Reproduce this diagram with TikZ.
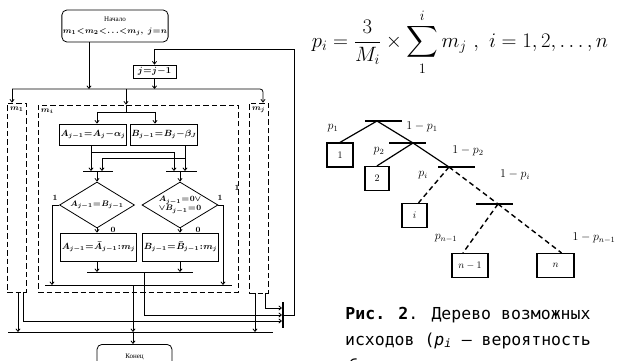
\documentclass[tikz,border=0pt]{standalone}
\usepackage{amsmath,amssymb}
\usepackage{fontspec}
\newfontfamily\blockfont{Liberation Serif}
\newfontfamily\capfont{DejaVu Sans Mono}
\newcommand\tightmu{\thickmuskip=1mu\relax\medmuskip=0.5mu\relax}
\usetikzlibrary{arrows.meta,positioning,shapes.geometric,calc}

\begin{document}
\begin{tikzpicture}[x=1pt,y=-1pt,line width=0.8pt,
  arr/.style={-{Straight Barb[length=2.6pt,width=4.2pt]}},
  term/.style={draw,rounded corners=5pt,align=center,inner sep=1pt},
  blk/.style={draw,inner sep=1pt,font=\fontsize{9}{10}\selectfont\boldmath,
              execute at begin node=\tightmu},
  cond/.style={draw,diamond,aspect=1.6,inner sep=0pt,align=center,
               font=\fontsize{8}{9}\selectfont\boldmath,execute at begin node=\tightmu},
  grp/.style={draw,dash pattern=on 5.5pt off 3pt,inner sep=0pt},
  lbl/.style={inner sep=0pt,font=\fontsize{8}{9}\selectfont\bfseries\boldmath},
  tbar/.style={fill=black,inner sep=0pt,minimum width=37pt,minimum height=2.6pt},
  leaf/.style={draw,line width=1.2pt,inner sep=0pt,minimum height=24pt,
               font=\fontsize{10}{12}\selectfont},
  branch/.style={line width=1.2pt},
  dbranch/.style={line width=1.4pt,dash pattern=on 5pt off 3.5pt},
  plab/.style={inner sep=0pt,font=\fontsize{12}{14}\selectfont},
  capt/.style={inner sep=0pt,font=\capfont\fontsize{16.5}{20}\selectfont}]
  \useasboundingbox (0,0) rectangle (622,361);

  % Start and decrement
  \node[term,minimum width=100pt,minimum height=32pt] (start) at (115,26)
       {{\blockfont\fontsize{7}{8}\selectfont Начало}\\
        {\fontsize{8.5}{9}\selectfont\boldmath\tightmu$m_1<m_2<\ldots<m_j,\ j=n$}};
  \node[blk,minimum width=43pt,minimum height=13pt] (dec) at (154.5,71.5) {$j=j-1$};

  % Dashed groups
  \node[grp,minimum width=19pt,minimum height=189pt] (m1box) at (16.5,197.5) {};
  \node[grp,minimum width=200pt,minimum height=187pt] (mibox) at (138,198.5) {};
  \node[grp,minimum width=19pt,minimum height=190pt] (mjbox) at (258.5,198) {};
  \node[lbl,anchor=north west] (lm1) at ([shift={(3pt,-4pt)}]m1box.north west) {$m_1$};
  \node[lbl,anchor=north west] (lmi) at ([shift={(3pt,-4pt)}]mibox.north west) {$m_i$};
  \node[lbl,anchor=north west] (lmj) at ([shift={(3pt,-4pt)}]mjbox.north west) {$m_j$};

  % Inner blocks
  \node[blk,minimum width=62pt,minimum height=21pt] (asub) at (93,134.5) {$A_{j-1}=A_j-\alpha_j$};
  \node[blk,minimum width=62pt,minimum height=21pt] (bsub) at (164,134.5) {$B_{j-1}=B_j-\beta_J$};
  \node[cond,minimum width=75pt,minimum height=46pt] (acmp) at (97,205) {$A_{j-1}=B_{j-1}$};
  \node[cond,minimum width=76pt,minimum height=46pt] (bcmp) at (180,205)
       {$A_{j-1}=0\vee$\\$\vee B_{j-1}=0$};
  \node[blk,minimum width=69pt,minimum height=28pt] (adiv) at (98.5,247) {$A_{j-1}=\bar{A}_{j-1}:m_j$};
  \node[blk,minimum width=65pt,minimum height=28pt] (bdiv) at (180.5,247) {$B_{j-1}=\bar{B}_{j-1}:m_j$};
  \node[lbl] (l1a) at (55,198) {1};
  \node[lbl] (l0a) at (113,230) {0};
  \node[lbl] (l1b) at (220,198) {1};
  \node[lbl] (l0b) at (198,230) {0};
  \node[lbl] (l1c) at (237,188) {1};

  % Join bar and end
  \node[fill=black,inner sep=0pt,minimum width=1.2pt,minimum height=26pt] (join) at (283,315) {};
  \node[term,minimum width=75pt,minimum height=24pt,anchor=north] (stop) at (134.5,344)
       {\blockfont\fontsize{7}{8}\selectfont Конец};

  % Bus points
  \coordinate (tb1) at (12,89);   \coordinate (tb2) at (263,89);
  \coordinate (sdrop) at (89,89); \coordinate (mdrop) at (126,89);
  \coordinate (forkA) at (97,112); \coordinate (forkB) at (155,112);
  \coordinate (bl1) at (83,171);  \coordinate (bl2) at (113,171);
  \coordinate (br1) at (166,171); \coordinate (br2) at (197,171);
  \coordinate (aR) at (174,171);  \coordinate (bL) at (102,171);
  \coordinate (aYes) at (52,285); \coordinate (bYes) at (223,285);
  \coordinate (bc1) at (87,272);  \coordinate (bc2) at (193,272);
  \coordinate (bi1) at (45,285);  \coordinate (bi2) at (232,285);
  \coordinate (bb1) at (8,332);   \coordinate (bb2) at (273,332);
  \coordinate (cdrop) at (144,272); \coordinate (idrop) at (133,285);
  \coordinate (loop) at (294,49);
  \coordinate (aout) at ([xshift=-2pt]asub.south);
  \coordinate (bout) at ([xshift=21pt]bsub.south);
  \coordinate (m1L) at ([xshift=1.5pt]m1box.south);
  \coordinate (m1R) at ([xshift=6.5pt]m1box.south);
  \coordinate (mjL) at ([xshift=-3.5pt]mjbox.south);
  \coordinate (mjR) at ([xshift=6.5pt]mjbox.south);

  % Top distribution
  \draw[arr] (start.south -| sdrop) -- (sdrop);
  \draw[arr] (dec.south) -- (dec.south |- tb1);
  \draw[arr,rounded corners=3pt] (tb1) -- (tb2) -- (tb2 |- mjbox.north);
  \draw[arr] (tb1) -- (tb1 |- m1box.north);
  \draw[arr] (mdrop) -- (mdrop |- mibox.north);
  \draw (mdrop |- mibox.north) -- (mdrop |- forkA);
  \draw (forkA) -- (forkB);
  \draw[arr] (forkA) -- (forkA |- asub.north);
  \draw[arr] (forkB) -- (forkB |- bsub.north);

  % Inside m_i
  \draw[arr] (aout) -- (aout |- bl1);
  \draw[arr] ([yshift=-7pt]aout) -| (aR);
  \draw[arr] (bout) -- (bout |- br1);
  \draw[arr] ([yshift=-13pt]bout) -| (bL);
  \draw (bl1) -- (bl2);
  \draw (br1) -- (br2);
  \draw[arr] (acmp.north |- bl1) -- (acmp.north);
  \draw[arr] (bcmp.north |- br1) -- (bcmp.north);
  \draw[arr] (acmp.west) -| (aYes);
  \draw[arr] (bcmp.east) -| (bYes);
  \draw[arr] (acmp.south) -- (acmp.south |- adiv.north);
  \draw[arr] (bcmp.south) -- (bcmp.south |- bdiv.north);
  \draw[arr] (adiv.south -| acmp) -- (acmp |- bc1);
  \draw[arr] (bdiv.south -| bcmp) -- (bcmp |- bc1);
  \draw (bc1) -- (bc2);
  \draw (bi1) -- (bi2);

  % Exits
  \draw (bb1) -- (bb2);
  \draw[arr] (cdrop) |- (join.west);
  \draw[arr] (mjR) |- ([yshift=7pt]join.west);
  \draw[arr] (m1R) |- ([yshift=-6pt]join.west);
  \draw[arr] (m1L) -- (m1L |- bb1);
  \draw[arr] (mjL) -- (mjL |- bb1);
  \draw[arr] (idrop) -- (idrop |- bb1);
  \draw[arr] (idrop |- bb1) -- (stop.north -| idrop);
  \draw[arr] (join.east) -| (loop) -| (dec.north);

  % Formula
  \node[inner sep=0pt,font=\fontsize{22}{26}\selectfont] (fml) at (460,42)
       {$\displaystyle p_i=\frac{3}{M_i}\times\sum_1^i m_j\ ,\ i=1,2,\ldots,n$};

  % Tree of outcomes
  \node[tbar] (t1) at (383.5,121) {};
  \node[tbar] (t2) at (407.5,143) {};
  \node[tbar] (t3) at (456.5,167) {};
  \node[tbar] (t4) at (494,204) {};
  \coordinate (j1) at (377,121); \coordinate (j2) at (413,143);
  \coordinate (j3) at (449,167); \coordinate (j4) at (498,204);
  \node[leaf,minimum width=26pt] (o1) at (340,155) {$1$};
  \node[leaf,minimum width=24pt] (o2) at (377,178.5) {$2$};
  \node[leaf,minimum width=25pt] (oi) at (414.5,215.5) {$i$};
  \node[leaf,minimum width=36pt] (on1) at (470,265.5) {$n-1$};
  \node[leaf,minimum width=37pt] (on) at (555.5,265.5) {$n$};
  \draw[branch] (j1) -- (o1.north);
  \draw[branch] (j1) -- (j2) -- (j3);
  \draw[branch] (j2) -- (o2.north);
  \draw[dbranch] (j3) -- ([xshift=4pt]oi.north);
  \draw[dbranch] (j3) -- (j4);
  \draw[dbranch] (j4) -- ([xshift=-7pt]on1.north);
  \draw[dbranch] (j4) -- ([xshift=6pt]on.north);
  \node[plab] (lp1) at (333,128) {$p_1$};
  \node[plab] (lq1) at (422,127) {$1-p_1$};
  \node[plab] (lp2) at (379,151) {$p_2$};
  \node[plab] (lq2) at (468,151) {$1-p_2$};
  \node[plab] (lpi) at (423,175) {$p_i$};
  \node[plab] (lqi) at (515,175) {$1-p_i$};
  \node[plab] (lpn) at (446,238) {$p_{n-1}$};
  \node[plab] (lqn) at (594,238) {$1-p_{n-1}$};

  % Caption
  \node[capt,anchor=base] (cap1) at (468,319) {\textbf{Рис. 2}. Дерево возможных};
  \node[capt,anchor=base] (cap2) at (468,345) {исходов ({\itshape p\textsubscript{i}} — вероятность};
  \node[capt,anchor=base] (cap3) at (468,371) {события, которое заключается};
\end{tikzpicture}
\end{document}
